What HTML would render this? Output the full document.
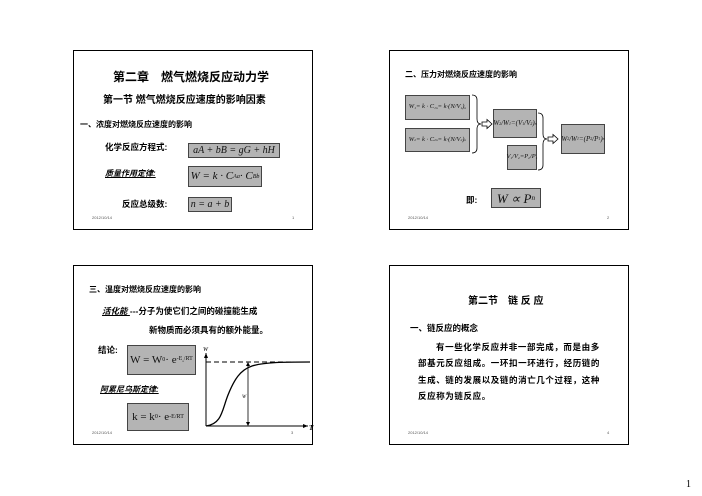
<!DOCTYPE html>
<html><head><meta charset="utf-8"><style>
body{margin:0;width:702px;height:496px;background:#fff;position:relative;overflow:hidden;font-family:"Liberation Sans","Noto Sans CJK SC",sans-serif;}
.s{position:absolute;border:1px solid #000;width:240px;height:180px;box-sizing:border-box;}
.t{position:absolute;white-space:nowrap;font-weight:bold;color:#000;line-height:1;}
.b{position:absolute;background:#b4b4b4;border:1px solid #444;box-sizing:border-box;font-family:"Liberation Serif",serif;font-style:italic;white-space:nowrap;display:flex;align-items:center;justify-content:center;color:#111;line-height:1;}
.b sub,.b sup{font-size:0.55em;line-height:0;}
.d{position:absolute;font-size:4px;color:#555;line-height:1;}
</style></head><body>
<div class="s" style="left:73px;top:50px"></div>
<div class="s" style="left:389px;top:50px"></div>
<div class="s" style="left:73px;top:265px"></div>
<div class="s" style="left:389px;top:265px"></div>

<!-- TL -->
<div class="t" style="left:113px;top:71px;font-size:12px">第二章　燃气燃烧反应动力学</div>
<div class="t" style="left:103px;top:96px;font-size:10px">第一节 燃气燃烧反应速度的影响因素</div>
<div class="t" style="left:80px;top:121px;font-size:8px">一、浓度对燃烧反应速度的影响</div>
<div class="t" style="left:105px;top:143px;font-size:8.5px">化学反应方程式:</div>
<div class="b" style="left:188px;top:143px;width:92px;height:15px;font-size:10px">aA + bB = gG + hH</div>
<div class="t" style="left:105px;top:170px;font-size:8px;font-style:italic;text-decoration:underline">质量作用定律:</div>
<div class="b" style="left:188px;top:166px;width:74px;height:21px;font-size:11px">W = k · C<sub>A</sub><sup>a</sup> · C<sub>B</sub><sup>b</sup></div>
<div class="t" style="left:122px;top:200px;font-size:8.5px">反应总级数:</div>
<div class="b" style="left:188px;top:197px;width:44px;height:15px;font-size:10px">n = a + b</div>
<div class="d" style="left:92px;top:216px">2012/10/14</div>
<div class="d" style="left:292px;top:216px">1</div>

<!-- TR -->
<div class="t" style="left:405px;top:71px;font-size:8px">二、压力对燃烧反应速度的影响</div>
<div class="b" style="left:405px;top:95px;width:65px;height:25px;font-size:6.5px">W<sub>1</sub> = k · C<sub>1</sub><sup>n</sup> = k·(N/V<sub>1</sub>)<sup>n</sup></div>
<div class="b" style="left:405px;top:128px;width:65px;height:24px;font-size:6.5px">W<sub>2</sub> = k · C<sub>2</sub><sup>n</sup> = k·(N/V<sub>2</sub>)<sup>n</sup></div>
<div class="b" style="left:493px;top:109px;width:44px;height:29px;font-size:7px">W<sub>2</sub>/W<sub>1</sub>=(V<sub>1</sub>/V<sub>2</sub>)<sup>n</sup></div>
<div class="b" style="left:507px;top:145px;width:30px;height:25px;font-size:6.5px">V<sub>1</sub>/V<sub>2</sub>=P<sub>2</sub>/P<sub>1</sub></div>
<div class="b" style="left:561px;top:124px;width:44px;height:30px;font-size:7px">W<sub>2</sub>/W<sub>1</sub>=(P<sub>2</sub>/P<sub>1</sub>)<sup>n</sup></div>
<svg style="position:absolute;left:0;top:0" width="702" height="496">
<path d="M472 95 Q477 95 477 100 L477 119 Q477 124 481 124 Q477 124 477 129 L477 148 Q477 153 472 153" fill="none" stroke="#000" stroke-width="0.8"/>
<path d="M538 113 Q543 113 543 118 L543 134 Q543 139 547 139 Q543 139 543 144 L543 165 Q543 170 538 170" fill="none" stroke="#000" stroke-width="0.8"/>
<path d="M482 122 L487 122 L487 119.5 L492 124 L487 128.5 L487 126 L482 126 Z" fill="#fff" stroke="#000" stroke-width="0.8"/>
<path d="M548 137 L553 137 L553 134.5 L558 139 L553 143.5 L553 141 L548 141 Z" fill="#fff" stroke="#000" stroke-width="0.8"/>
<line x1="206" y1="353" x2="206" y2="426" stroke="#000" stroke-width="1"/>
<line x1="206" y1="426" x2="308" y2="426" stroke="#000" stroke-width="1"/>
<path d="M206 353 l-2 5 l4 0z M308 426 l-5 -2 l0 4z" fill="#000"/>
<line x1="206" y1="362" x2="300" y2="362" stroke="#000" stroke-dasharray="5,3" stroke-width="0.9"/>
<path d="M206 426 C222 424 222 410 228 395 C234 380 240 370 252 366 C265 362 285 362 310 362" fill="none" stroke="#000" stroke-width="1.3"/>
<line x1="248" y1="364" x2="248" y2="424" stroke="#000" stroke-width="0.8"/>
<path d="M248 362 l-2 4 l4 0z M248 426 l-2 -4 l4 0z" fill="#000"/>
<text x="203" y="351" font-size="6" font-style="italic" font-family="Liberation Serif">W</text>
<text x="309" y="430" font-size="7" font-style="italic" font-family="Liberation Serif" font-weight="bold">T</text>
<text x="242" y="398" font-size="5" font-style="italic" font-family="Liberation Serif">W</text>
</svg>
<div class="t" style="left:466px;top:196px;font-size:8.5px">即:</div>
<div class="b" style="left:491px;top:188px;width:50px;height:20px;font-size:13px">W ∝ P<sup>n</sup></div>
<div class="d" style="left:408px;top:216px">2012/10/14</div>
<div class="d" style="left:607px;top:216px">2</div>

<!-- BL -->
<div class="t" style="left:89px;top:286px;font-size:8px">三、温度对燃烧反应速度的影响</div>
<div class="t" style="left:102px;top:307px;font-size:8.5px"><span style="font-style:italic;text-decoration:underline">活化能 </span>---分子为使它们之间的碰撞能生成</div>
<div class="t" style="left:149px;top:326px;font-size:8.5px">新物质而必须具有的额外能量。</div>
<div class="t" style="left:98px;top:346px;font-size:8.5px">结论:</div>
<div class="b" style="left:127px;top:345px;width:69px;height:30px;font-size:11px;font-style:normal">W = W<sub>0</sub> · e<sup>-E<sub>a</sub>/RT</sup></div>
<div class="t" style="left:100px;top:386px;font-size:8px;font-style:italic;text-decoration:underline">阿累尼乌斯定律:</div>
<div class="b" style="left:127px;top:403px;width:62px;height:28px;font-size:11px;font-style:normal">k = k<sub>0</sub> · e<sup>-E/RT</sup></div>
<div class="d" style="left:92px;top:431px">2012/10/14</div>
<div class="d" style="left:291px;top:431px">3</div>

<!-- BR -->
<div class="t" style="left:468px;top:297px;font-size:10px">第二节　链 反 应</div>
<div class="t" style="left:410px;top:324px;font-size:8.5px">一、链反应的概念</div>
<div class="t" style="left:436px;top:343px;font-size:8.5px;letter-spacing:0.6px">有一些化学反应并非一部完成，而是由多</div>
<div class="t" style="left:418px;top:359px;font-size:8.5px;letter-spacing:0.6px">部基元反应组成。一环扣一环进行，经历链的</div>
<div class="t" style="left:418px;top:376px;font-size:8.5px;letter-spacing:0.6px">生成、链的发展以及链的消亡几个过程，这种</div>
<div class="t" style="left:418px;top:392px;font-size:8.5px;letter-spacing:0.6px">反应称为链反应。</div>
<div class="d" style="left:408px;top:431px">2012/10/14</div>
<div class="d" style="left:607px;top:431px">4</div>

<div style="position:absolute;left:686px;top:479px;font-size:10px;font-family:'Liberation Serif',serif">1</div>
</body></html>
